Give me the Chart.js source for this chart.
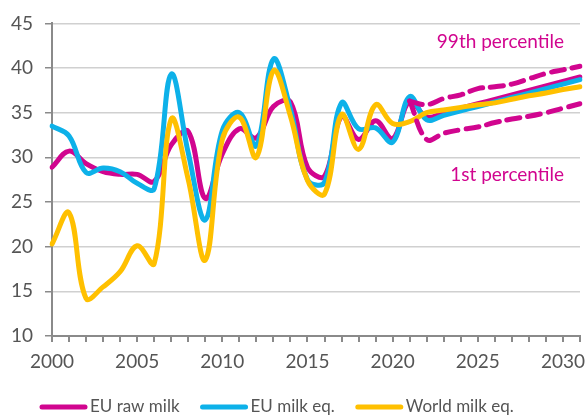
<!DOCTYPE html>
<html>
<head>
<meta charset="utf-8">
<script src="https://cdn.jsdelivr.net/npm/chart.js@4"></script>
<style>
  html, body { margin: 0; padding: 0; background: #fff; }
  #wrap { width: 588px; height: 417px; position: relative; }
</style>
</head>
<body>
<div id="wrap"><canvas id="myChart" width="588" height="417"></canvas></div>
<script>
// years on the x axis
const years = [];
for (let y = 2000; y <= 2031; y++) years.push(String(y));

const euRawMilk = [28.9, 30.7, 29.3, 28.4, 28.1, 28.1, 27.3, 31.4, 32.9, 25.4,
  30.4, 33.2, 32.2, 35.7, 36.2, 28.9, 27.9, 34.6, 32.0, 34.1,
  32.1, 36.3, 34.5, 35.0, 35.5, 36.0, 36.5, 37.0, 37.5, 38.0, 38.5, 39.0];
const euMilkEq = [33.5, 32.4, 28.3, 28.8, 28.4, 27.1, 26.5, 39.3, 30.5, 23.0,
  33.0, 35.0, 31.3, 41.0, 35.4, 27.5, 27.2, 36.1, 33.2, 33.3,
  31.7, 36.8, 34.2, 34.7, 35.2, 35.7, 36.2, 36.7, 37.2, 37.7, 38.2, 38.7];
const worldMilkEq = [20.3, 23.8, 14.2, 15.5, 17.2, 20.1, 18.1, 34.3, 27.5, 18.5,
  32.0, 34.5, 30.0, 39.7, 34.6, 27.4, 25.9, 34.8, 30.9, 35.9,
  33.8, 34.0, 35.0, 35.3, 35.6, 35.9, 36.1, 36.5, 36.9, 37.2, 37.6, 37.9];
const pct99 = [null, null, null, null, null, null, null, null, null, null,
  null, null, null, null, null, null, null, null, null, null,
  null, 36.3, 35.9, 36.6, 37.0, 37.7, 37.9, 38.2, 38.8, 39.4, 39.8, 40.2];
const pct1 = [null, null, null, null, null, null, null, null, null, null,
  null, null, null, null, null, null, null, null, null, null,
  null, 36.3, 32.0, 32.7, 33.1, 33.4, 33.9, 34.3, 34.6, 35.0, 35.5, 36.0];

const MAGENTA = '#d1058f';
const BLUE = '#0db1e9';
const YELLOW = '#ffc000';
const FONT = 'Lato, "Open Sans", sans-serif';

// legend + percentile labels
const extras = {
  id: 'extras',
  afterDraw(chart) {
    const ctx = chart.ctx;
    const area = chart.chartArea;
    ctx.save();
    ctx.font = '19px ' + FONT;
    ctx.fillStyle = MAGENTA;
    ctx.textAlign = 'right';
    ctx.textBaseline = 'middle';
    ctx.fillText('99th percentile', area.right - 16, 42);
    ctx.fillText('1st percentile', area.right - 16, 175);

    // legend, in the reference order
    const items = chart.data.datasets.filter(d => d.inLegend).reverse();
    ctx.font = '17px ' + FONT;
    let x = 40;
    const y = 407;
    ctx.textAlign = 'left';
    ctx.lineCap = 'round';
    ctx.lineWidth = 5;
    for (const d of items) {
      ctx.strokeStyle = d.borderColor;
      ctx.beginPath();
      ctx.moveTo(x + 2, y);
      ctx.lineTo(x + 45, y);
      ctx.stroke();
      ctx.fillStyle = '#555';
      ctx.fillText(d.label, x + 50, y);
      x += 50 + ctx.measureText(d.label).width + 21;
    }
    ctx.restore();
  }
};

const lineDs = (label, data, color, inLegend, dashed) => ({
  label, data,
  borderColor: color,
  backgroundColor: color,
  borderWidth: 5,
  borderDash: dashed ? [13, 8] : [],
  borderCapStyle: 'round',
  pointRadius: 0,
  tension: 0.38,
  fill: false,
  spanGaps: false,
  inLegend
});

new Chart(document.getElementById('myChart').getContext('2d'), {
  type: 'line',
  data: {
    labels: years,
    // first dataset is drawn on top
    datasets: [
      lineDs('99th percentile', pct99, MAGENTA, false, true),
      lineDs('1st percentile', pct1, MAGENTA, false, true),
      lineDs('World milk eq.', worldMilkEq, YELLOW, true, false),
      lineDs('EU milk eq.', euMilkEq, BLUE, true, false),
      lineDs('EU raw milk', euRawMilk, MAGENTA, true, false)
    ]
  },
  options: {
    responsive: false,
    animation: false,
    layout: { padding: { top: 18, right: 6, left: 0, bottom: 0 } },
    plugins: { legend: { display: false }, tooltip: { enabled: false } },
    scales: {
      x: {
        type: 'category',
        offset: false,
        afterFit: s => { s.height = 81; },
        border: { display: true, color: '#8a8a8a', width: 2 },
        grid: { drawOnChartArea: false, drawTicks: true, tickLength: 6, tickColor: '#8a8a8a', lineWidth: 2 },
        ticks: {
          autoSkip: false, maxRotation: 0, padding: 8, color: '#555',
          font: { family: FONT, size: 19 },
          callback: function (v) {
            const yr = Number(this.getLabelForValue(v));
            return (yr % 5 === 0 && yr <= 2030) ? String(yr) : '';
          }
        }
      },
      y: {
        min: 10, max: 45,
        afterFit: s => { s.width = 52; },
        border: { display: true, color: '#8a8a8a', width: 2 },
        grid: { color: '#d0d0d0', lineWidth: 1.5, tickLength: 7, tickColor: '#8a8a8a' },
        ticks: { stepSize: 5, padding: 12, color: '#555', font: { family: FONT, size: 19 } }
      }
    }
  },
  plugins: [extras]
});
</script>
</body>
</html>
